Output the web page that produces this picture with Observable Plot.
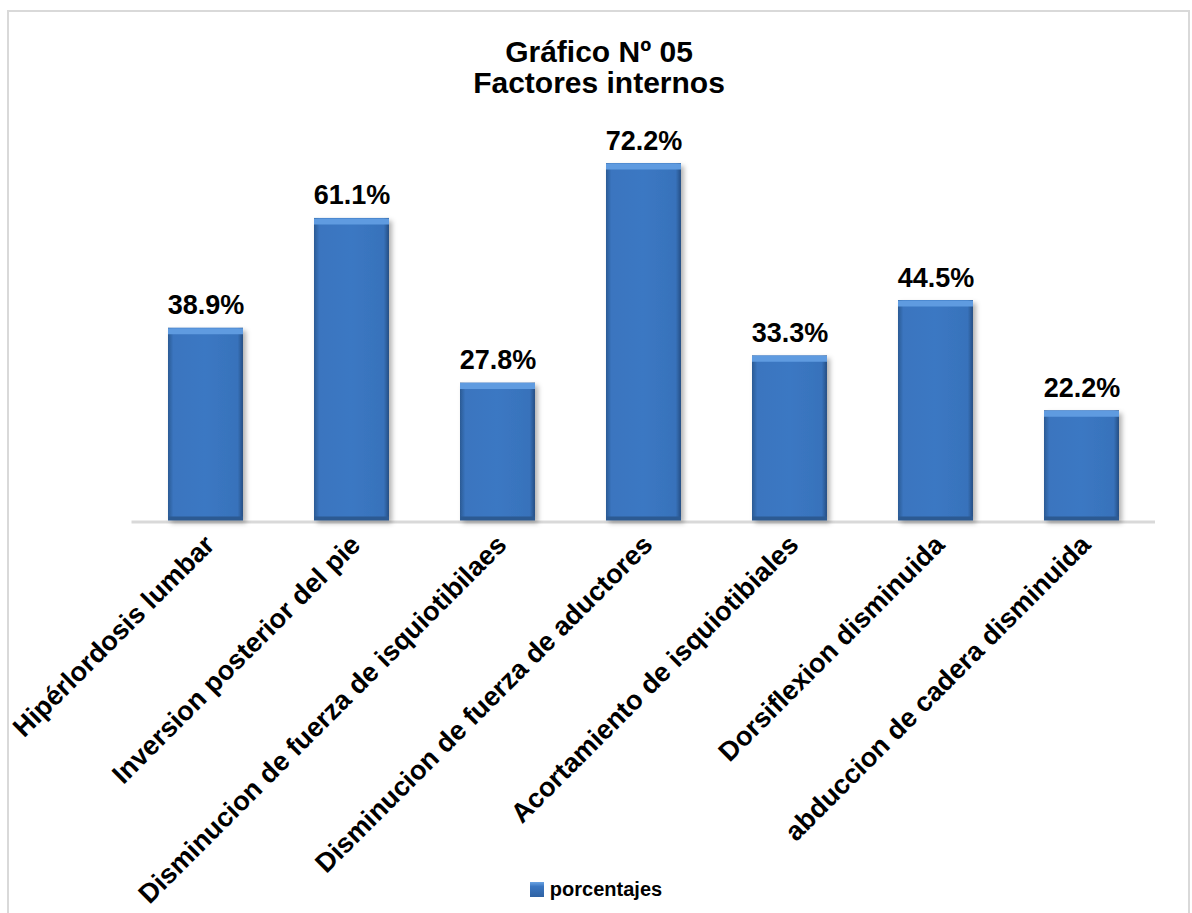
<!DOCTYPE html>
<html>
<head>
<meta charset="utf-8">
<script src="https://cdn.jsdelivr.net/npm/d3@7"></script>
<script src="https://cdn.jsdelivr.net/npm/@observablehq/plot@0.6"></script>
<style>
  html, body { margin: 0; padding: 0; background: #fff; }
  body { width: 1192px; height: 913px; position: relative; overflow: hidden; font-family: "Liberation Sans", Arial, sans-serif; }
  #frame { position: absolute; left: 7px; top: 10px; width: 1183px; height: 920px; border: 2px solid #d9d9d9; box-sizing: border-box; }
  #title { position: absolute; left: 3px; top: 0; width: 1192px; height: 110px; text-align: center; font-weight: bold; font-size: 30px; line-height: 31px; padding-top: 36px; box-sizing: border-box; color: #000; }
  #chart { position: absolute; left: 0; top: 110px; }
  #legend { position: absolute; left: 0; top: 878px; width: 1192px; display: flex; justify-content: center; align-items: center; font-weight: bold; font-size: 20px; color: #000; }
  #legend .sw { width: 14px; height: 15px; margin-right: 6px; background: linear-gradient(to bottom, #6aa3e3 0%, #3a76c1 30%, #2f62a3 100%); }
</style>
</head>
<body>
<div id="frame"></div>
<div id="title"><div>Gráfico Nº 05</div><div>Factores internos</div></div>
<div id="chart"></div>
<div id="legend"><span class="sw"></span><span id="legendText"></span></div>
<script>
const categories = [
  "Hipérlordosis lumbar",
  "Inversion posterior del pie",
  "Disminucion de fuerza de isquiotibilaes",
  "Disminucion de fuerza de aductores",
  "Acortamiento de isquiotibiales",
  "Dorsiflexion disminuida",
  "abduccion de cadera disminuida"
];
const values = [38.9, 61.1, 27.8, 72.2, 33.3, 44.5, 22.2];
const seriesName = "porcentajes";

document.getElementById("legendText").textContent = seriesName;

const data = categories.map((c, i) => ({cat: c, v: values[i]}));

const plot = Plot.plot({
  width: 1192,
  height: 760,
  marginLeft: 131.5,
  marginRight: 37,
  marginTop: 14.5,
  marginBottom: 350,
  x: {domain: categories, paddingInner: 0.487, paddingOuter: 0.2435, axis: null},
  y: {domain: [0, 80], axis: null},
  style: {fontFamily: "'Liberation Sans', Arial, sans-serif", background: "transparent", overflow: "visible"},
  marks: [
    Plot.ruleY([0], {stroke: "#d9d9d9", strokeWidth: 3, dy: 1.5}),
    Plot.barY(data, {x: "cat", y: "v", fill: "url(#barGradH)"}),
    Plot.tickY(data, {x: "cat", y: "v", stroke: "#5f9be0", strokeWidth: 6, dy: 3}),
    Plot.tickY(data, {x: "cat", y: 0, stroke: "#2c5a92", strokeWidth: 4, dy: -2}),
    Plot.text(data, {x: "cat", y: "v", text: d => d.v.toFixed(1) + "%", lineAnchor: "bottom", dy: -14, fontSize: 27, fontWeight: "bold", fill: "#000"}),
    Plot.text(data, {x: "cat", frameAnchor: "bottom", text: "cat", rotate: -45, textAnchor: "end", lineAnchor: "bottom", dx: 10, dy: 26, fontSize: 27, fontWeight: "bold", fill: "#000"})
  ]
});

const svg = d3.select(plot);
const defs = svg.insert("defs", ":first-child");
const gh = defs.append("linearGradient").attr("id", "barGradH").attr("x1", 0).attr("x2", 1).attr("y1", 0).attr("y2", 0);
[[0, "#2b5a94"], [0.07, "#3a75bf"], [0.5, "#3b78c3"], [0.93, "#3872bb"], [1, "#274f84"]].forEach(([o, c]) =>
  gh.append("stop").attr("offset", o).attr("stop-color", c));
const f = defs.append("filter").attr("id", "shadow").attr("x", "-20%").attr("y", "-10%").attr("width", "150%").attr("height", "130%");
f.append("feDropShadow").attr("dx", 3).attr("dy", 3).attr("stdDeviation", 2.5).attr("flood-color", "#000").attr("flood-opacity", 0.3);
svg.selectAll("g[aria-label='bar'] rect").attr("filter", "url(#shadow)");

document.getElementById("chart").appendChild(plot);
</script>
</body>
</html>
